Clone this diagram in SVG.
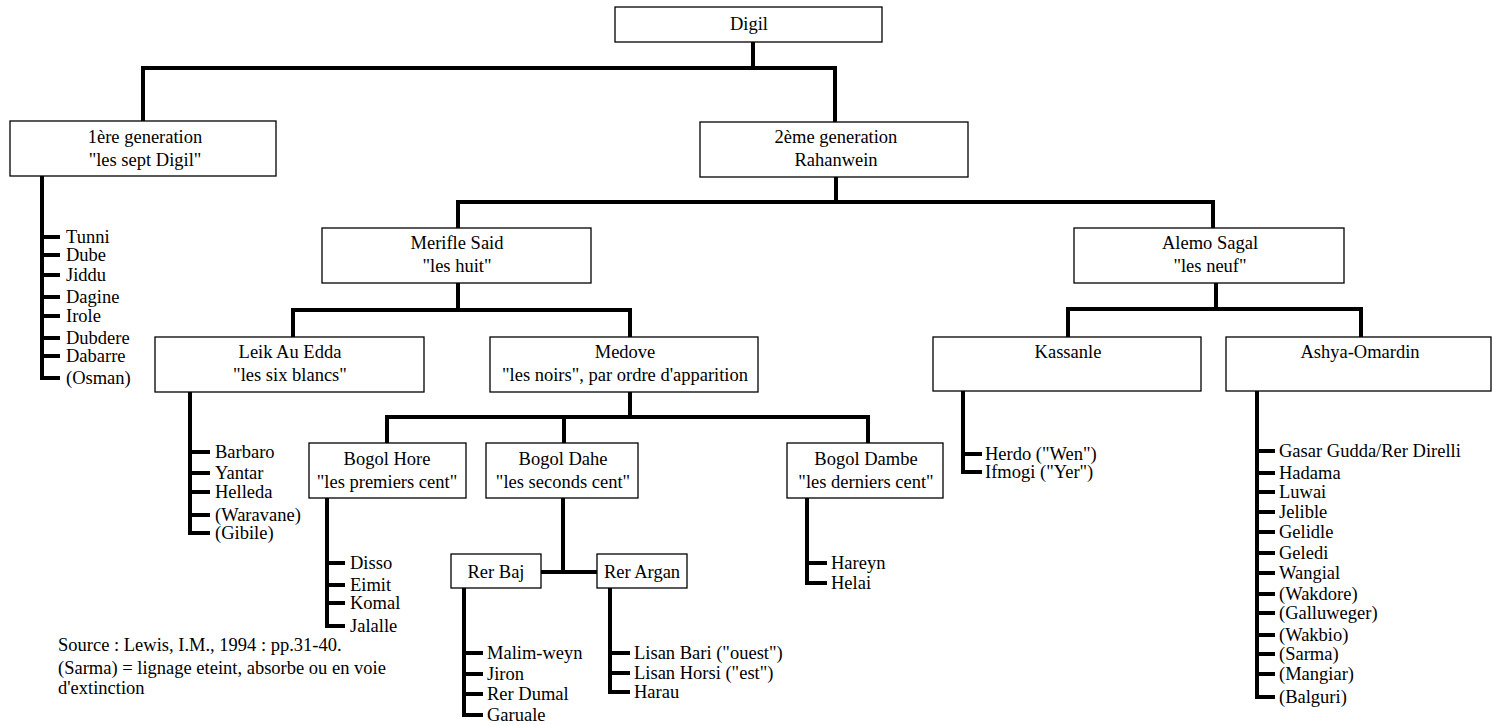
<svg xmlns="http://www.w3.org/2000/svg" width="1492" height="724" viewBox="0 0 1492 724">
<style>
.box{fill:#fff;stroke:#000;stroke-width:1.3}
.c{fill:none;stroke:#000;stroke-width:4;stroke-linecap:butt;stroke-linejoin:miter}
text{font-family:"Liberation Serif","Times New Roman",serif;font-size:18.5px;fill:#000}
.m{text-anchor:middle}
</style>
<rect width="1492" height="724" fill="#fff"/>
<g id="connectors">
<path class="c" d="M753,42 V68 M143,121 V68 H835 V122"/>
<path class="c" d="M836,177 V202 M458,228 V202 H1213 V228"/>
<path class="c" d="M458,283 V310 M293,337 V310 H630 V337"/>
<path class="c" d="M1216,283 V309 M1068,337 V309 H1361 V337"/>
<path class="c" d="M630,392 V417 M387,443 V417 H868 V443 M564,417 V443"/>
<path class="c" d="M563,498 V572 M541,572 H597"/>
<path class="c" d="M42,176 V380 M40,378 H60 M42,237 H60 M42,255 H60 M42,275 H60 M42,297 H60 M42,316 H60 M42,338 H60 M42,356 H60"/>
<path class="c" d="M190,392 V535 M188,533 H210 M190,452 H210 M190,473 H210 M190,492 H210 M190,515 H210"/>
<path class="c" d="M327,498 V628 M325,626 H345 M327,563 H345 M327,585 H345 M327,603 H345"/>
<path class="c" d="M464,588 V717 M462,715 H483 M464,653 H483 M464,674 H483 M464,694 H483"/>
<path class="c" d="M610,588 V694 M608,692 H630 M610,653 H630 M610,673 H630"/>
<path class="c" d="M807,498 V585 M805,583 H827 M807,563 H827"/>
<path class="c" d="M963,391 V474 M961,472 H982 M963,454 H982"/>
<path class="c" d="M1257,391 V699 M1255,697 H1275 M1257,451 H1275 M1257,473 H1275 M1257,492 H1275 M1257,512 H1275 M1257,532 H1275 M1257,553 H1275 M1257,573 H1275 M1257,594 H1275 M1257,613 H1275 M1257,635 H1275 M1257,654 H1275 M1257,674 H1275"/>
</g>
<g id="digil"><rect class="box" x="615" y="7" width="267" height="35"/><text class="m" x="749" y="30">Digil</text></g>
<g id="gen1"><rect class="box" x="10" y="121" width="266" height="55"/><text class="m" x="145" y="143">1ère generation</text><text class="m" x="145" y="166">"les sept Digil"</text></g>
<g id="gen2"><rect class="box" x="700" y="122" width="268" height="55"/><text class="m" x="836" y="143">2ème generation</text><text class="m" x="836" y="166">Rahanwein</text></g>
<g id="merifle"><rect class="box" x="322" y="228" width="269" height="55"/><text class="m" x="457" y="249">Merifle Said</text><text class="m" x="457" y="272">"les huit"</text></g>
<g id="alemo"><rect class="box" x="1074" y="228" width="270" height="55"/><text class="m" x="1210" y="249">Alemo Sagal</text><text class="m" x="1210" y="272">"les neuf"</text></g>
<g id="leik"><rect class="box" x="155" y="337" width="269" height="55"/><text class="m" x="290" y="358">Leik Au Edda</text><text class="m" x="290" y="381">"les six blancs"</text></g>
<g id="medove"><rect class="box" x="490" y="337" width="268" height="55"/><text class="m" x="625" y="358">Medove</text><text class="m" x="625" y="381">"les noirs", par ordre d'apparition</text></g>
<g id="kassanle"><rect class="box" x="933" y="337" width="268" height="54"/><text class="m" x="1068" y="358">Kassanle</text></g>
<g id="ashya"><rect class="box" x="1226" y="337" width="265" height="54"/><text class="m" x="1360" y="358">Ashya-Omardin</text></g>
<g id="bogol-hore"><rect class="box" x="309" y="443" width="157" height="55"/><text class="m" x="387" y="465">Bogol Hore</text><text class="m" x="387" y="488">"les premiers cent"</text></g>
<g id="bogol-dahe"><rect class="box" x="486" y="443" width="152" height="55"/><text class="m" x="563" y="465">Bogol Dahe</text><text class="m" x="563" y="488">"les seconds cent"</text></g>
<g id="bogol-dambe"><rect class="box" x="787" y="443" width="156" height="55"/><text class="m" x="866" y="465">Bogol Dambe</text><text class="m" x="866" y="488">"les derniers cent"</text></g>
<g id="rer-baj"><rect class="box" x="451" y="554" width="90" height="34"/><text class="m" x="496" y="578">Rer Baj</text></g>
<g id="rer-argan"><rect class="box" x="597" y="554" width="90" height="34"/><text class="m" x="642" y="578">Rer Argan</text></g>
<g id="list-gen1">
<text x="66" y="243">Tunni</text><text x="66" y="261">Dube</text><text x="66" y="281">Jiddu</text><text x="66" y="303">Dagine</text><text x="66" y="322">Irole</text><text x="66" y="344">Dubdere</text><text x="66" y="362">Dabarre</text><text x="66" y="384">(Osman)</text>
</g>
<g id="list-leik">
<text x="215" y="458">Barbaro</text><text x="215" y="479">Yantar</text><text x="215" y="498">Helleda</text><text x="215" y="521">(Waravane)</text><text x="215" y="539">(Gibile)</text>
</g>
<g id="list-hore">
<text x="350" y="569">Disso</text><text x="350" y="591">Eimit</text><text x="350" y="609">Komal</text><text x="350" y="632">Jalalle</text>
</g>
<g id="list-baj">
<text x="487" y="659">Malim-weyn</text><text x="487" y="680">Jiron</text><text x="487" y="700">Rer Dumal</text><text x="487" y="721">Garuale</text>
</g>
<g id="list-argan">
<text x="634" y="659">Lisan Bari ("ouest")</text><text x="634" y="679">Lisan Horsi ("est")</text><text x="634" y="698">Harau</text>
</g>
<g id="list-dambe">
<text x="831" y="569">Hareyn</text><text x="831" y="589">Helai</text>
</g>
<g id="list-kassanle">
<text x="985" y="460">Herdo ("Wen")</text><text x="985" y="478">Ifmogi ("Yer")</text>
</g>
<g id="list-ashya">
<text x="1279" y="457">Gasar Gudda/Rer Direlli</text><text x="1279" y="479">Hadama</text><text x="1279" y="498">Luwai</text><text x="1279" y="518">Jelible</text><text x="1279" y="538">Gelidle</text><text x="1279" y="559">Geledi</text><text x="1279" y="579">Wangial</text><text x="1279" y="600">(Wakdore)</text><text x="1279" y="619">(Galluweger)</text><text x="1279" y="641">(Wakbio)</text><text x="1279" y="660">(Sarma)</text><text x="1279" y="680">(Mangiar)</text><text x="1279" y="703">(Balguri)</text>
</g>
<g id="source">
<text x="58" y="651">Source : Lewis, I.M., 1994 : pp.31-40.</text>
<text x="58" y="674">(Sarma) = lignage eteint, absorbe ou en voie</text>
<text x="58" y="694">d'extinction</text>
</g>
</svg>
